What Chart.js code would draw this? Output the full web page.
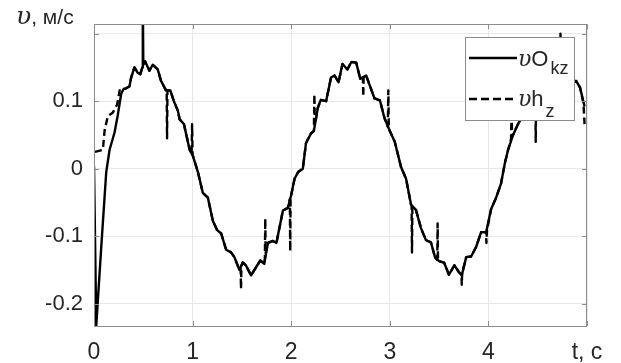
<!DOCTYPE html>
<html><head><meta charset="utf-8">
<script src="https://cdn.jsdelivr.net/npm/chart.js@4.4.1/dist/chart.umd.min.js"></script>
<style>html,body{margin:0;padding:0;background:#fff}canvas{display:block}</style>
</head><body>
<canvas id="c" width="621" height="363" style="width:621px;height:363px"></canvas>
<script>
// ---- data ----
const xTicks = [0, 1, 2, 3, 4, 5];
const xTickLabels = ['0', '1', '2', '3', '4', 't, c'];
const yTicks = [-0.2, -0.1, 0, 0.1, 0.2];
const yTickLabels = ['-0.2', '-0.1', '0', '0.1', ''];
const yTitleSymbol = 'υ';
const yTitleUnit = ', м/с';
const seriesLabels = ['υO_kz', 'υh_z'];
const legendMain = ['O', 'h'];
const legendSub = ['kz', 'z'];

// υO_kz (solid)
const solidT = [
  0, 0.023, 0.074, 0.124, 0.158, 0.209, 0.242, 0.276, 0.300, 0.327,
  0.360, 0.377, 0.410, 0.444, 0.470, 0.490, 0.495, 0.500, 0.518, 0.562, 0.595, 0.646,
  0.680, 0.730, 0.774, 0.810, 0.850, 0.869, 0.912, 0.970, 1.003, 1.054,
  1.104, 1.155, 1.205, 1.249, 1.290, 1.340, 1.390, 1.424, 1.475, 1.508,
  1.540, 1.593, 1.643, 1.687, 1.727, 1.764, 1.815, 1.850, 1.916, 1.966,
  2.000, 2.034, 2.070, 2.118, 2.150, 2.200, 2.230, 2.270, 2.300, 2.354,
  2.404, 2.440, 2.480, 2.520, 2.570, 2.610, 2.660, 2.700, 2.760, 2.790,
  2.845, 2.900, 2.946, 2.997, 3.050, 3.115, 3.165, 3.215, 3.265, 3.316,
  3.367, 3.417, 3.460, 3.500, 3.550, 3.600, 3.655, 3.700, 3.730, 3.775,
  3.825, 3.875, 3.926, 3.977, 4.027, 4.078, 4.128, 4.168, 4.200, 4.250,
  4.300, 4.350, 4.400, 4.450, 4.500, 4.550, 4.600, 4.650, 4.700, 4.750,
  4.800, 4.840, 4.890, 4.930, 4.975
];
const solidV = [
  0.004, -0.232, -0.115, -0.005, 0.028, 0.054, 0.080, 0.111, 0.118, 0.119,
  0.122, 0.135, 0.150, 0.142, 0.140, 0.150, 0.260, 0.155, 0.159, 0.145, 0.154, 0.147,
  0.130, 0.116, 0.116, 0.100, 0.086, 0.073, 0.066, 0.028, 0.019, -0.005,
  -0.036, -0.043, -0.077, -0.091, -0.096, -0.120, -0.124, -0.131, -0.150, -0.139,
  -0.143, -0.158, -0.146, -0.136, -0.141, -0.110, -0.107, -0.110, -0.062, -0.058,
  -0.039, -0.015, -0.005, 0.000, 0.038, 0.052, 0.056, 0.090, 0.102, 0.100,
  0.135, 0.138, 0.128, 0.155, 0.147, 0.158, 0.157, 0.133, 0.138, 0.126,
  0.104, 0.101, 0.075, 0.057, 0.040, 0.002, -0.015, -0.053, -0.061, -0.088,
  -0.106, -0.109, -0.132, -0.137, -0.139, -0.157, -0.143, -0.153, -0.158, -0.131,
  -0.130, -0.116, -0.094, -0.094, -0.060, -0.043, -0.022, 0.009, 0.028, 0.050,
  0.066, 0.078, 0.095, 0.105, 0.118, 0.130, 0.140, 0.150, 0.148, 0.140,
  0.135, 0.126, 0.130, 0.120, 0.092
];

// υh_z (dashed)
const dashT = [
  0.010, 0.090, 0.108, 0.141, 0.190, 0.235, 0.260, 0.300, 0.327, 0.360,
  0.377, 0.410, 0.444, 0.470, 0.495, 0.518, 0.562, 0.595,
  0.646, 0.680, 0.730, 0.737, 0.741, 0.745, 0.774, 0.810, 0.850, 0.869,
  0.912, 0.970, 0.990, 0.995, 1.000, 1.003, 1.054, 1.104, 1.155, 1.205,
  1.249, 1.290, 1.340, 1.390, 1.424, 1.475, 1.487, 1.491, 1.495, 1.508,
  1.540, 1.593, 1.643, 1.687, 1.727, 1.733, 1.737, 1.741, 1.764, 1.815,
  1.850, 1.916, 1.966, 1.986, 1.990, 1.994, 2.000, 2.034, 2.070, 2.118,
  2.150, 2.200, 2.230, 2.235, 2.240, 2.270, 2.300, 2.354, 2.404, 2.440,
  2.480, 2.520, 2.570, 2.610, 2.660, 2.700, 2.727, 2.731, 2.735, 2.760,
  2.790, 2.845, 2.900, 2.946, 2.980, 2.985, 2.990, 2.997, 3.050, 3.115,
  3.165, 3.215, 3.221, 3.225, 3.229, 3.265, 3.316, 3.367, 3.417, 3.460,
  3.481, 3.485, 3.489, 3.500, 3.550, 3.600, 3.655, 3.700, 3.726, 3.730,
  3.734, 3.775, 3.825, 3.875, 3.926, 3.975, 3.980, 3.985, 4.027, 4.078,
  4.128, 4.168, 4.200, 4.230, 4.235, 4.240, 4.250, 4.300, 4.350, 4.400,
  4.450, 4.476, 4.480, 4.484, 4.500, 4.550, 4.600, 4.650, 4.700, 4.727,
  4.731, 4.735, 4.750, 4.800, 4.840, 4.890, 4.930, 4.965, 4.975
];
const dashV = [
  0.025, 0.028, 0.057, 0.078, 0.083, 0.095, 0.116, 0.118, 0.119, 0.122,
  0.135, 0.150, 0.142, 0.140, 0.152, 0.159, 0.145, 0.154,
  0.147, 0.130, 0.116, 0.116, 0.045, 0.116, 0.116, 0.100, 0.086, 0.073,
  0.066, 0.028, 0.022, 0.066, 0.020, 0.019, -0.005, -0.036, -0.043, -0.077,
  -0.091, -0.096, -0.120, -0.124, -0.131, -0.150, -0.148, -0.178, -0.144, -0.139,
  -0.143, -0.158, -0.146, -0.136, -0.141, -0.132, -0.074, -0.125, -0.110, -0.107,
  -0.110, -0.062, -0.058, -0.045, -0.122, -0.042, -0.039, -0.015, -0.005, 0.000,
  0.038, 0.052, 0.056, 0.110, 0.064, 0.090, 0.102, 0.100, 0.135, 0.138,
  0.128, 0.155, 0.147, 0.158, 0.157, 0.133, 0.135, 0.107, 0.136, 0.138,
  0.126, 0.104, 0.101, 0.075, 0.062, 0.116, 0.060, 0.057, 0.040, 0.002,
  -0.015, -0.053, -0.055, -0.124, -0.057, -0.061, -0.088, -0.106, -0.109, -0.132,
  -0.135, -0.081, -0.136, -0.137, -0.139, -0.157, -0.143, -0.153, -0.157, -0.172,
  -0.154, -0.131, -0.130, -0.116, -0.094, -0.094, -0.110, -0.092, -0.060, -0.043,
  -0.022, 0.009, 0.028, 0.044, 0.095, 0.047, 0.050, 0.066, 0.078, 0.095,
  0.105, 0.115, 0.040, 0.117, 0.118, 0.130, 0.140, 0.150, 0.148, 0.144,
  0.200, 0.143, 0.140, 0.135, 0.126, 0.130, 0.120, 0.096, 0.066
];

const toPts = (t, v) => t.map((x, i) => ({ x: x, y: v[i] }));

const AXIS = '#8c8c8c';
const TEXT = '#262626';
const SANS = '"Liberation Sans", Arial, sans-serif';
const SERIF = '"DejaVu Serif", "Liberation Serif", serif';

const frame = {
  id: 'frame',
  afterDatasetsDraw(chart) {
    const ctx = chart.ctx;
    const a = chart.chartArea;
    const xs = chart.scales.x, ys = chart.scales.y;
    ctx.save();
    ctx.strokeStyle = AXIS;
    ctx.lineWidth = 1;
    ctx.strokeRect(Math.round(a.left) + 0.5, Math.round(a.top) + 0.5,
                   Math.round(a.right - a.left) - 1, Math.round(a.bottom - a.top));
    const tl = 5;
    ctx.beginPath();
    xTicks.forEach(v => {
      const px = Math.round(xs.getPixelForValue(v)) + 0.5;
      ctx.moveTo(px, a.bottom); ctx.lineTo(px, a.bottom - tl);
      ctx.moveTo(px, a.top); ctx.lineTo(px, a.top + tl);
    });
    yTicks.forEach(v => {
      const py = Math.round(ys.getPixelForValue(v)) + 0.5;
      ctx.moveTo(a.left, py); ctx.lineTo(a.left + tl, py);
      ctx.moveTo(a.right, py); ctx.lineTo(a.right - tl, py);
    });
    ctx.stroke();

    // legend
    const lw = 109, lh = 83;
    const lx = Math.round(a.right) - 13 - lw, ly = Math.round(a.top) + 13;
    ctx.fillStyle = '#fff';
    ctx.fillRect(lx, ly, lw, lh);
    ctx.strokeStyle = AXIS;
    ctx.strokeRect(lx + 0.5, ly + 0.5, lw, lh);
    const rows = [{ y: ly + 21, base: ly + 29, sub: ly + 37, dash: [] },
                  { y: ly + 62, base: ly + 69, sub: ly + 80, dash: [8, 4] }];
    rows.forEach((r, i) => {
      ctx.strokeStyle = '#000';
      ctx.lineWidth = 2.4;
      ctx.setLineDash(r.dash);
      ctx.beginPath();
      ctx.moveTo(lx + 4, r.y); ctx.lineTo(lx + 52, r.y);
      ctx.stroke();
      ctx.setLineDash([]);
      ctx.fillStyle = TEXT;
      ctx.textBaseline = 'alphabetic';
      ctx.textAlign = 'left';
      let x = lx + 53;
      ctx.font = 'italic 22px ' + SERIF;
      ctx.fillText(yTitleSymbol, x, r.base);
      x += ctx.measureText(yTitleSymbol).width;
      ctx.font = '22px ' + SANS;
      ctx.fillText(legendMain[i], x, r.base);
      x += ctx.measureText(legendMain[i]).width + 2;
      ctx.font = '18px ' + SANS;
      ctx.fillText(legendSub[i], x, r.sub);
    });

    // y title (in place of the 0.2 label)
    ctx.fillStyle = TEXT;
    ctx.textBaseline = 'alphabetic';
    ctx.textAlign = 'left';
    let tx = 16;
    ctx.font = 'italic 25px ' + SERIF;
    ctx.fillText(yTitleSymbol, tx, 24);
    tx += ctx.measureText(yTitleSymbol).width;
    ctx.font = '21px ' + SANS;
    ctx.fillText(yTitleUnit, tx, 24);
    ctx.restore();
  }
};

new Chart(document.getElementById('c'), {
  type: 'line',
  data: {
    datasets: [
      { label: seriesLabels[0], data: toPts(solidT, solidV), borderColor: '#000',
        borderWidth: 2.4, pointRadius: 0, tension: 0, clip: 0,
        borderJoinStyle: 'round' },
      { label: seriesLabels[1], data: toPts(dashT, dashV), borderColor: '#000',
        borderWidth: 2.4, pointRadius: 0, tension: 0, clip: 0,
        borderDash: [7, 4], borderJoinStyle: 'round' }
    ]
  },
  options: {
    responsive: false,
    animation: false,
    devicePixelRatio: 1,
    layout: { padding: { top: 13, right: 34, bottom: 0, left: 0 } },
    plugins: { legend: { display: false }, tooltip: { enabled: false } },
    scales: {
      x: {
        type: 'linear', min: 0, max: 5,
        afterBuildTicks: s => { s.ticks = xTicks.map(v => ({ value: v })); },
        afterFit: s => { s.height = 37; },
        ticks: {
          callback: v => xTickLabels[xTicks.indexOf(v)],
          font: { size: 23, family: SANS }, color: TEXT,
          maxRotation: 0, autoSkip: false, padding: 13
        },
        grid: { color: '#e8e8e8', drawTicks: false, lineWidth: 1 },
        border: { display: false }
      },
      y: {
        type: 'linear', min: -0.233, max: 0.214,
        afterBuildTicks: s => { s.ticks = yTicks.map(v => ({ value: v })); },
        afterFit: s => { s.width = 94; },
        ticks: {
          callback: v => yTickLabels[yTicks.findIndex(t => Math.abs(t - v) < 1e-9)],
          font: { size: 22, family: SANS }, color: TEXT,
          autoSkip: false, padding: 11
        },
        grid: { color: '#e8e8e8', drawTicks: false, lineWidth: 1 },
        border: { display: false }
      }
    }
  },
  plugins: [frame]
});
</script>
</body></html>
